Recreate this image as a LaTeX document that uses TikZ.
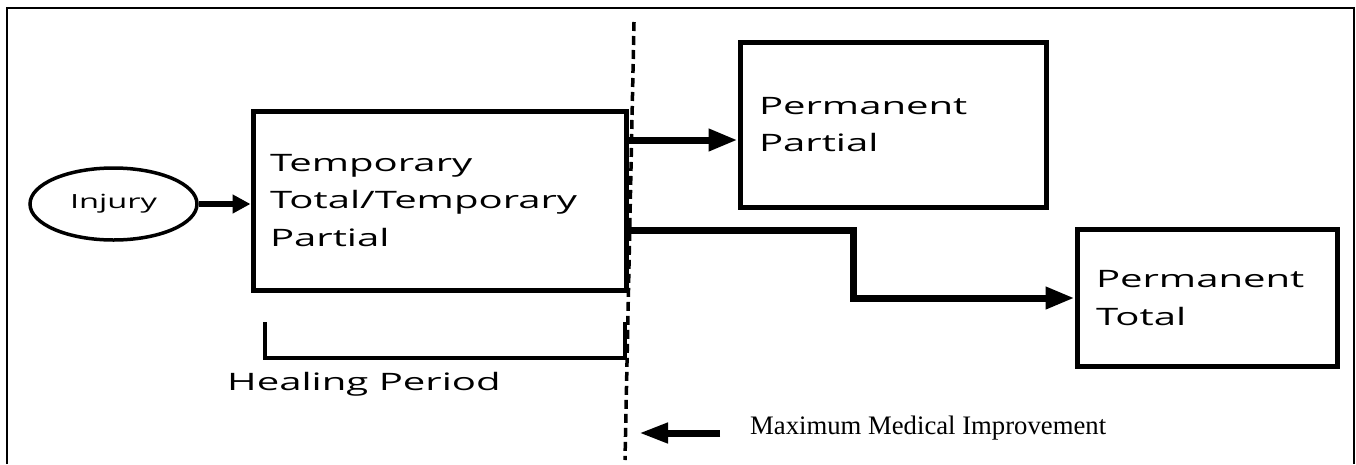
\documentclass[tikz,border=0pt]{standalone}
\usepackage{fontspec}
\setmainfont{Liberation Serif}
\newfontfamily\boxfont[FakeStretch=1.67]{Open Sans}
\usetikzlibrary{arrows.meta,shapes.geometric}
\begin{document}
\begin{tikzpicture}[x=1pt,y=-1pt,
  box/.style={draw, line width=5pt, rectangle, align=left, inner ysep=0pt,
    font=\boxfont\fontsize{24}{37.5}\selectfont},
  conn/.style={line width=7pt, line join=miter, -{Triangle[length=29pt,width=21pt]}},
  frame/.style={line width=2pt},
  bracket/.style={line width=4pt, line join=miter},
  mmiline/.style={line width=3.5pt, dash pattern=on 9pt off 5pt},
]
\useasboundingbox (0,0) rectangle (1356,464);
\draw[frame] (7,464) -- (7,7.5) -- (1354,7.5) -- (1354,464);

\node[ellipse, draw, line width=3.5pt, minimum width=167pt, minimum height=72pt, inner sep=0pt,
  font=\boxfont\fontsize{19.5}{24}\selectfont] (inj) at (113.5,204) {Injury};
\node[box, minimum width=373pt, minimum height=179pt, text width=339pt, inner xsep=17pt]
  (ttp) at (439.5,200.5) {Temporary\\Total/Temporary\\Partial};
\node[box, minimum width=306pt, minimum height=165pt, text width=268pt, inner xsep=19pt]
  (pp) at (893,124.5) {Permanent\\Partial};
\node[box, minimum width=260pt, minimum height=137pt, text width=222pt, inner xsep=19pt]
  (pt) at (1207,298) {Permanent\\Total};

\draw[line width=5.5pt, -{Triangle[length=18pt,width=18pt]}] (inj.east) -- (ttp.west |- inj.east);
\draw[conn] (ttp.east |- 0,140) -- (pp.west |- 0,140);
\draw[conn] (ttp.east |- 0,230) -| (853,298) -- (pt.west);

\coordinate (mmitop) at (634,22);
\coordinate (mmibot) at (625,460);
\draw[mmiline] (mmitop) -- (mmibot);

\coordinate (bl) at (265,322);
\coordinate (br) at (625,322);
\draw[bracket] (bl) -- (bl |- 0,358) -- (br |- 0,358) -- (br);
\node[anchor=base west, inner sep=0pt, font=\boxfont\fontsize{24}{30}\selectfont] (heal) at (227,390) {Healing Period};

\node[anchor=base west, inner sep=0pt, font=\fontsize{26.7}{30}\selectfont] (mmi) at (750,434) {Maximum Medical Improvement};
\coordinate (mmitail) at (720,433);
\coordinate (mmitip) at (639,433);
\draw[line width=7pt, -{Triangle[length=29pt,width=19pt]}] (mmitail) -- (mmitip);
\end{tikzpicture}
\end{document}
